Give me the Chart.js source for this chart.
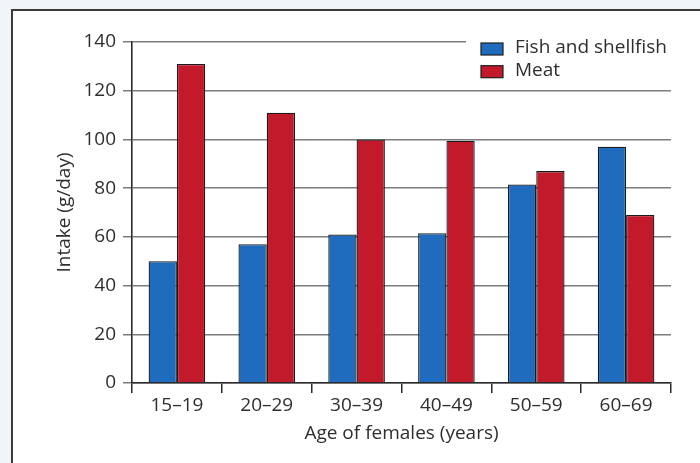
<!DOCTYPE html>
<html>
<head>
<meta charset="utf-8">
<script src="https://cdn.jsdelivr.net/npm/chart.js@4/dist/chart.umd.min.js"></script>
<style>
  html, body { margin: 0; padding: 0; background: #f2f5f8; }
  #wrap { position: relative; width: 700px; height: 463px; }
  canvas { display: block; }
</style>
</head>
<body>
<div id="wrap"><canvas id="c" width="700" height="463"></canvas></div>
<script>
// Daily intake by age group of females
const ageGroups = ['15–19', '20–29', '30–39', '40–49', '50–59', '60–69'];
const fishShellfish = [50, 57, 61, 61.5, 81.5, 97];
const meat = [131, 111, 100, 99.5, 87, 69];
const yTicks = [0, 20, 40, 60, 80, 100, 120, 140];

const FONT = '"Open Sans", "Noto Sans", sans-serif';
const TEXT = '#2e2e2e';
const GRID = '#7d7d7d';
const AXIS = '#2a2a2a';

// Page frame: light surround, white panel with dark top/left edges
const framePlugin = {
  id: 'frame',
  beforeDraw(chart) {
    const ctx = chart.ctx;
    ctx.save();
    ctx.fillStyle = '#f2f5f8';
    ctx.fillRect(0, 0, chart.width, chart.height);
    ctx.fillStyle = '#ffffff';
    ctx.fillRect(12, 10, chart.width - 12, chart.height - 10);
    ctx.strokeStyle = '#3c3c3c';
    ctx.lineWidth = 2;
    ctx.beginPath();
    ctx.moveTo(12, chart.height);
    ctx.lineTo(12, 10);
    ctx.lineTo(chart.width, 10);
    ctx.stroke();
    ctx.restore();
  }
};

// Legend box in the top-right corner of the plot, on a white backing
const legendPlugin = {
  id: 'boxLegend',
  afterDatasetsDraw(chart) {
    const ctx = chart.ctx;
    const area = chart.chartArea;
    const x0 = 481, y0 = 43, rowH = 22.7;
    ctx.save();
    ctx.fillStyle = '#ffffff';
    ctx.fillRect(466, area.top - 4, area.right - 466 + 2, 47);
    ctx.font = '19px ' + FONT;
    ctx.textBaseline = 'middle';
    ctx.textAlign = 'left';
    chart.data.datasets.forEach((ds, i) => {
      const y = y0 + i * rowH;
      ctx.fillStyle = ds.backgroundColor;
      ctx.fillRect(x0, y, 22, 12);
      ctx.strokeStyle = '#1e1e1e';
      ctx.lineWidth = 1.2;
      ctx.strokeRect(x0, y, 22, 12);
      ctx.fillStyle = TEXT;
      ctx.fillText(ds.label, 515, y + 5);
    });
    ctx.restore();
  }
};

new Chart(document.getElementById('c'), {
  type: 'bar',
  data: {
    labels: ageGroups,
    datasets: [
      { label: 'Fish and shellfish', data: fishShellfish, backgroundColor: '#1f6cbf',
        borderColor: '#1b1b1b', borderWidth: 1.3 },
      { label: 'Meat', data: meat, backgroundColor: '#c2192b',
        borderColor: '#1b1b1b', borderWidth: 1.3 }
    ]
  },
  options: {
    responsive: false,
    animation: false,
    devicePixelRatio: 1,
    layout: { padding: { left: 0, right: 29, top: 42, bottom: 0 } },
    datasets: { bar: { categoryPercentage: 0.63, barPercentage: 1.0 } },
    plugins: { legend: { display: false }, tooltip: { enabled: false } },
    scales: {
      x: {
        grid: { drawOnChartArea: false, drawTicks: true, tickLength: 10,
                color: AXIS, lineWidth: 1.5, offset: true },
        border: { display: true, color: AXIS, width: 1.6 },
        ticks: { color: TEXT, font: { family: FONT, size: 19 }, padding: 1 },
        title: { display: true, text: 'Age of females (years)', color: TEXT,
                 font: { family: FONT, size: 19 }, padding: { top: 0, bottom: 18 } },
        afterFit(scale) { scale.height = 80; }
      },
      y: {
        min: 0, max: 140,
        afterBuildTicks(scale) { scale.ticks = yTicks.map(v => ({ value: v })); },
        grid: { color: GRID, lineWidth: 1.5, tickLength: 9, drawTicks: true },
        border: { display: true, color: AXIS, width: 1.6 },
        ticks: { color: TEXT, font: { family: FONT, size: 19 }, padding: 7 },
        title: { display: true, text: 'Intake (g/day)', color: TEXT,
                 font: { family: FONT, size: 19 }, padding: { top: 53, bottom: 0 } },
        afterFit(scale) { scale.width = 132; }
      }
    }
  },
  plugins: [framePlugin, legendPlugin]
});
</script>
</body>
</html>
